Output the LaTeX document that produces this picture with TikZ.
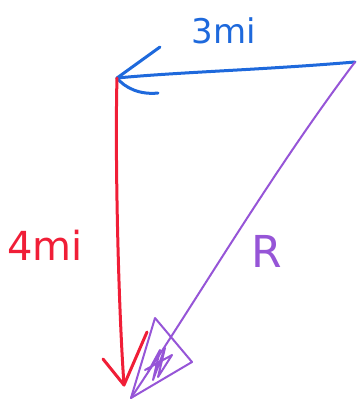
\documentclass[tikz,border=0pt]{standalone}
\usepackage{fontspec}
\setmainfont{DejaVu Sans}
\definecolor{penblue}{RGB}{30,105,220}
\definecolor{penred}{RGB}{240,30,55}
\definecolor{penpurple}{RGB}{150,85,215}
\begin{document}
\begin{tikzpicture}[x=1pt,y=-1pt,
  pen/.style={line width=3pt,line cap=round,line join=round},
  thinpen/.style={line width=2pt,line cap=round,line join=round},
  lbl/.style={font=\fontsize{34}{38}\selectfont,inner sep=0pt}]
\useasboundingbox (0,0) rectangle (357,402);
\coordinate (A) at (117,78);
\coordinate (B) at (355,62);
\coordinate (C) at (124,385);
\coordinate (D) at (131,398);
% blue 3mi
\draw[pen,penblue] (B) .. controls (260,70) and (180,72) .. (A);
\draw[pen,penblue] (160,47) -- (A) .. controls (125,88) and (140,95) .. (158,93);
\node[lbl,text=penblue] (t3) at (224,31) {3mi};
% red 4mi
\draw[pen,penred] (A) .. controls (115,150) and (118,300) .. (C);
\draw[pen,penred] (103,359) -- (C) -- (147,332);
\node[lbl,text=penred,font=\fontsize{40}{44}\selectfont] (t4) at (45,245) {4mi};
% purple R
\draw[thinpen,penpurple] (B) .. controls (270,175) and (200,295) .. (D);
\draw[thinpen,penpurple] (D) -- (155,318) -- (192,362) -- cycle;
\draw[thinpen,penpurple] (148,372) -- (160,350) -- (153,380) -- (165,348) -- (158,377) -- (172,355) -- (145,370);
\node[lbl,text=penpurple,font=\fontsize{44}{48}\selectfont] (tR) at (267,251) {R};
\end{tikzpicture}
\end{document}
